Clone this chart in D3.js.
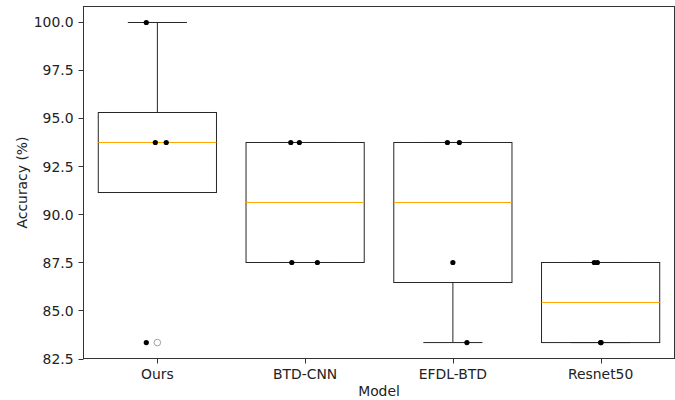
<!DOCTYPE html>
<html><head><meta charset="utf-8">
<script src="https://cdn.jsdelivr.net/npm/d3@7"></script>
<style>body{margin:0;background:#fff}svg{display:block;font-family:"DejaVu Sans",sans-serif}</style>
</head><body><svg id="c" width="675" height="400"></svg>
<script>
const categories = ["Ours", "BTD-CNN", "EFDL-BTD", "Resnet50"];
const oursValues = [100.0, 93.75, 93.75, 83.33];
const btdCnnValues = [93.75, 93.75, 87.5, 87.5];
const efdlBtdValues = [93.75, 93.75, 87.5, 83.33];
const resnet50Values = [87.5, 87.5, 83.33, 83.33];
const jitterOurs = [-0.075, -0.014, 0.06, -0.075];
const jitterBtdCnn = [-0.097, -0.039, -0.09, 0.083];
const jitterEfdlBtd = [-0.037, 0.044, 0.0, 0.095];
const jitterResnet50 = [-0.043, -0.022, 0.003, 0.0];
const yTicks = [82.5, 85.0, 87.5, 90.0, 92.5, 95.0, 97.5, 100.0];

const seriesValues = [oursValues, btdCnnValues, efdlBtdValues, resnet50Values];
const jitters = [jitterOurs, jitterBtdCnn, jitterEfdlBtd, jitterResnet50];

const svg = d3.select("#c");
const m = {l:83.5, r:674.5, t:6.5, b:358.5};
const x = d3.scaleLinear().domain([-0.5, 3.5]).range([m.l, m.r]);
const y = d3.scaleLinear().domain([82.5, 100.833]).range([m.b, m.t]);
const fs = 13.9;

function stats(v){
  const s = v.slice().sort(d3.ascending);
  const q1 = d3.quantileSorted(s, 0.25), med = d3.quantileSorted(s, 0.5), q3 = d3.quantileSorted(s, 0.75);
  const iqr = q3 - q1, lo = q1 - 1.5*iqr, hi = q3 + 1.5*iqr;
  const inr = s.filter(d => d >= lo && d <= hi);
  const wlo = Math.min(d3.min(inr), q1), whi = Math.max(d3.max(inr), q3);
  const fl = s.filter(d => d < lo || d > hi);
  return {q1, med, q3, wlo, whi, fl};
}

const g = svg.append("g");
const ec = "#262626";
seriesValues.forEach((v, i) => {
  const st = stats(v);
  const bw = 0.8, cw = 0.4;
  g.append("line").attr("x1", x(i)).attr("x2", x(i)).attr("y1", y(st.q3)).attr("y2", y(st.whi)).attr("stroke", ec);
  g.append("line").attr("x1", x(i)).attr("x2", x(i)).attr("y1", y(st.q1)).attr("y2", y(st.wlo)).attr("stroke", ec);
  [st.whi, st.wlo].forEach(c => g.append("line").attr("x1", x(i-cw/2)).attr("x2", x(i+cw/2)).attr("y1", y(c)).attr("y2", y(c)).attr("stroke", ec));
  g.append("rect").attr("x", x(i-bw/2)).attr("width", x(i+bw/2)-x(i-bw/2))
    .attr("y", y(st.q3)).attr("height", y(st.q1)-y(st.q3)).attr("fill", "none").attr("stroke", ec);
  g.append("line").attr("x1", x(i-bw/2)).attr("x2", x(i+bw/2)).attr("y1", y(st.med)).attr("y2", y(st.med)).attr("stroke", "#ffa500");
  st.fl.forEach(f => g.append("circle").attr("cx", x(i)).attr("cy", y(f)).attr("r", 3.3).attr("fill", "none").attr("stroke", "#a0a0a0"));
  v.forEach((d, j) => g.append("circle").attr("cx", x(i + jitters[i][j])).attr("cy", y(d)).attr("r", 2.6).attr("fill", "#000"));
});

svg.append("rect").attr("x", m.l).attr("y", m.t).attr("width", m.r-m.l).attr("height", m.b-m.t).attr("fill", "none").attr("stroke", "#333");

const ya = svg.append("g");
yTicks.forEach(t => {
  ya.append("line").attr("x1", m.l-5).attr("x2", m.l).attr("y1", Math.round(y(t))+0.5).attr("y2", Math.round(y(t))+0.5).attr("stroke", "#333");
  ya.append("text").attr("x", m.l-10).attr("y", y(t)).attr("dy", "0.36em").attr("text-anchor", "end").attr("font-size", fs).attr("fill", "#222").text(t.toFixed(1));
});
categories.forEach((c, i) => {
  svg.append("line").attr("x1", Math.round(x(i))+0.5).attr("x2", Math.round(x(i))+0.5).attr("y1", m.b).attr("y2", m.b+5).attr("stroke", "#333");
  svg.append("text").attr("x", x(i)).attr("y", m.b+20).attr("text-anchor", "middle").attr("font-size", fs).attr("fill", "#222").text(c);
});
svg.append("text").attr("x", (m.l+m.r)/2).attr("y", 395.5).attr("text-anchor", "middle").attr("font-size", fs).attr("fill", "#222").text("Model");
svg.append("text").attr("transform", `translate(27,${(m.t+m.b)/2}) rotate(-90)`).attr("text-anchor", "middle").attr("font-size", fs).attr("fill", "#222").text("Accuracy (%)");
</script></body></html>
